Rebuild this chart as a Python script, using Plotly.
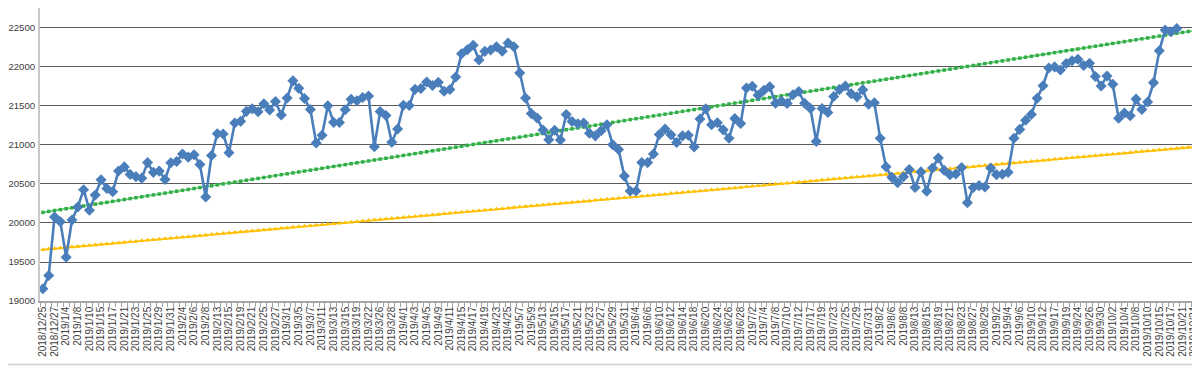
import plotly.graph_objects as go

# Trading-day categories (x axis)
dates = [
    "2018/12/25", "2018/12/26", "2018/12/27", "2018/12/28",
    "2019/1/4", "2019/1/7", "2019/1/8", "2019/1/9", "2019/1/10", "2019/1/11", "2019/1/15", "2019/1/16",
    "2019/1/17", "2019/1/18", "2019/1/21", "2019/1/22", "2019/1/23", "2019/1/24", "2019/1/25", "2019/1/28",
    "2019/1/29", "2019/1/30", "2019/1/31",
    "2019/2/1", "2019/2/4", "2019/2/5", "2019/2/6", "2019/2/7", "2019/2/8", "2019/2/12", "2019/2/13",
    "2019/2/14", "2019/2/15", "2019/2/18", "2019/2/19", "2019/2/20", "2019/2/21", "2019/2/22", "2019/2/25",
    "2019/2/26", "2019/2/27", "2019/2/28",
    "2019/3/1", "2019/3/4", "2019/3/5", "2019/3/6", "2019/3/7", "2019/3/8", "2019/3/11", "2019/3/12",
    "2019/3/13", "2019/3/14", "2019/3/15", "2019/3/18", "2019/3/19", "2019/3/20", "2019/3/22", "2019/3/25",
    "2019/3/26", "2019/3/27", "2019/3/28", "2019/3/29",
    "2019/4/1", "2019/4/2", "2019/4/3", "2019/4/4", "2019/4/5", "2019/4/8", "2019/4/9", "2019/4/10",
    "2019/4/11", "2019/4/12", "2019/4/15", "2019/4/16", "2019/4/17", "2019/4/18", "2019/4/19", "2019/4/22",
    "2019/4/23", "2019/4/24", "2019/4/25", "2019/4/26",
    "2019/5/7", "2019/5/8", "2019/5/9", "2019/5/10", "2019/5/13", "2019/5/14", "2019/5/15", "2019/5/16",
    "2019/5/17", "2019/5/20", "2019/5/21", "2019/5/22", "2019/5/23", "2019/5/24", "2019/5/27", "2019/5/28",
    "2019/5/29", "2019/5/30", "2019/5/31",
    "2019/6/3", "2019/6/4", "2019/6/5", "2019/6/6", "2019/6/7", "2019/6/10", "2019/6/11", "2019/6/12",
    "2019/6/13", "2019/6/14", "2019/6/17", "2019/6/18", "2019/6/19", "2019/6/20", "2019/6/21", "2019/6/24",
    "2019/6/25", "2019/6/26", "2019/6/27", "2019/6/28",
    "2019/7/1", "2019/7/2", "2019/7/3", "2019/7/4", "2019/7/5", "2019/7/8", "2019/7/9", "2019/7/10",
    "2019/7/11", "2019/7/12", "2019/7/16", "2019/7/17", "2019/7/18", "2019/7/19", "2019/7/22", "2019/7/23",
    "2019/7/24", "2019/7/25", "2019/7/26", "2019/7/29", "2019/7/30", "2019/7/31",
    "2019/8/1", "2019/8/2", "2019/8/5", "2019/8/6", "2019/8/7", "2019/8/8", "2019/8/9", "2019/8/13",
    "2019/8/14", "2019/8/15", "2019/8/16", "2019/8/19", "2019/8/20", "2019/8/21", "2019/8/22", "2019/8/23",
    "2019/8/26", "2019/8/27", "2019/8/28", "2019/8/29", "2019/8/30",
    "2019/9/2", "2019/9/3", "2019/9/4", "2019/9/5", "2019/9/6", "2019/9/9", "2019/9/10", "2019/9/11",
    "2019/9/12", "2019/9/13", "2019/9/17", "2019/9/18", "2019/9/19", "2019/9/20", "2019/9/24", "2019/9/25",
    "2019/9/26", "2019/9/27", "2019/9/30",
    "2019/10/1", "2019/10/2", "2019/10/3", "2019/10/4", "2019/10/7", "2019/10/8", "2019/10/9", "2019/10/10",
    "2019/10/11", "2019/10/15", "2019/10/16", "2019/10/17", "2019/10/18", "2019/10/21", "2019/10/23",
    "2019/10/24", "2019/10/25",
]

# Closing values (blue series), one per trading day up to 2019/10/18
close_values = [
    19156, 19327, 20078, 20015,
    19562, 20039, 20204, 20427, 20164, 20360, 20555, 20443, 20402, 20666, 20719, 20623, 20594, 20575,
    20774, 20649, 20665, 20557, 20773,
    20788, 20884, 20844, 20874, 20751, 20333, 20864, 21144, 21140, 20901, 21282, 21303, 21431, 21464,
    21426, 21528, 21449, 21557, 21385,
    21603, 21822, 21726, 21597, 21456, 21026, 21125, 21504, 21290, 21287, 21451, 21585, 21567, 21609,
    21627, 20977, 21428, 21378, 21034, 21206,
    21509, 21505, 21713, 21725, 21808, 21762, 21803, 21688, 21711, 21871, 22169, 22222, 22278, 22090,
    22200, 22218, 22260, 22201, 22308, 22259,
    21924, 21603, 21402, 21345, 21191, 21067, 21189, 21063, 21390, 21302, 21272, 21283, 21151, 21117,
    21183, 21260, 21003, 20943, 20601,
    20411, 20409, 20776, 20774, 20885, 21134, 21204, 21130, 21032, 21117, 21124, 20973, 21334, 21463,
    21259, 21286, 21194, 21087, 21338, 21276,
    21730, 21754, 21638, 21702, 21746, 21534, 21565, 21533, 21644, 21686, 21535, 21469, 21046, 21467,
    21417, 21621, 21710, 21757, 21658, 21617, 21709, 21522,
    21541, 21087, 20720, 20585, 20517, 20593, 20685, 20455, 20655, 20406, 20705, 20833, 20677, 20619,
    20628, 20711, 20261, 20456, 20479, 20461, 20704,
    20620, 20625, 20649, 21086, 21200, 21318, 21392, 21598, 21760, 21988, 22001, 21961, 22044, 22079,
    22099, 22020, 22048, 21879, 21756,
    21885, 21779, 21342, 21410, 21375, 21588, 21456, 21552, 21799, 22207, 22473, 22452, 22493,
]

# Green trend series
green_values = [
    20136, 20148, 20160, 20171, 20183, 20195, 20207, 20218, 20230, 20242,
    20254, 20265, 20277, 20289, 20301, 20313, 20324, 20336, 20348, 20360,
    20371, 20383, 20395, 20407, 20418, 20430, 20442, 20454, 20466, 20477,
    20489, 20501, 20513, 20524, 20536, 20548, 20560, 20571, 20583, 20595,
    20607, 20619, 20630, 20642, 20654, 20666, 20677, 20689, 20701, 20713,
    20725, 20736, 20748, 20760, 20772, 20783, 20795, 20807, 20819, 20830,
    20842, 20854, 20866, 20878, 20889, 20901, 20913, 20925, 20936, 20948,
    20960, 20972, 20983, 20995, 21007, 21019, 21031, 21042, 21054, 21066,
    21078, 21089, 21101, 21113, 21125, 21136, 21148, 21160, 21172, 21184,
    21195, 21207, 21219, 21231, 21242, 21254, 21266, 21278, 21289, 21301,
    21313, 21325, 21337, 21348, 21360, 21372, 21384, 21395, 21407, 21419,
    21431, 21442, 21454, 21466, 21478, 21490, 21501, 21513, 21525, 21537,
    21548, 21560, 21572, 21584, 21595, 21607, 21619, 21631, 21643, 21654,
    21666, 21678, 21690, 21701, 21713, 21725, 21737, 21748, 21760, 21772,
    21784, 21796, 21807, 21819, 21831, 21843, 21854, 21866, 21878, 21890,
    21902, 21913, 21925, 21937, 21949, 21960, 21972, 21984, 21996, 22007,
    22019, 22031, 22043, 22055, 22066, 22078, 22090, 22102, 22113, 22125,
    22137, 22149, 22160, 22172, 22184, 22196, 22208, 22219, 22231, 22243,
    22255, 22266, 22278, 22290, 22302, 22313, 22325, 22337, 22349, 22361,
    22372, 22384, 22396, 22408, 22419, 22431, 22443, 22455, 22466, 22478,
]

# Yellow trend series
yellow_values = [
    19658, 19665, 19671, 19678, 19685, 19691, 19698, 19705, 19711, 19718,
    19725, 19731, 19738, 19744, 19751, 19758, 19764, 19771, 19778, 19784,
    19791, 19798, 19804, 19811, 19818, 19824, 19831, 19838, 19844, 19851,
    19858, 19864, 19871, 19878, 19884, 19891, 19898, 19904, 19911, 19917,
    19924, 19931, 19937, 19944, 19951, 19957, 19964, 19971, 19977, 19984,
    19991, 19997, 20004, 20011, 20017, 20024, 20031, 20037, 20044, 20051,
    20057, 20064, 20070, 20077, 20084, 20090, 20097, 20104, 20110, 20117,
    20124, 20130, 20137, 20144, 20150, 20157, 20164, 20170, 20177, 20184,
    20190, 20197, 20204, 20210, 20217, 20224, 20230, 20237, 20243, 20250,
    20257, 20263, 20270, 20277, 20283, 20290, 20297, 20303, 20310, 20317,
    20323, 20330, 20337, 20343, 20350, 20357, 20363, 20370, 20377, 20383,
    20390, 20396, 20403, 20410, 20416, 20423, 20430, 20436, 20443, 20450,
    20456, 20463, 20470, 20476, 20483, 20490, 20496, 20503, 20510, 20516,
    20523, 20530, 20536, 20543, 20550, 20556, 20563, 20569, 20576, 20583,
    20589, 20596, 20603, 20609, 20616, 20623, 20629, 20636, 20643, 20649,
    20656, 20663, 20669, 20676, 20683, 20689, 20696, 20703, 20709, 20716,
    20722, 20729, 20736, 20742, 20749, 20756, 20762, 20769, 20776, 20782,
    20789, 20796, 20802, 20809, 20816, 20822, 20829, 20836, 20842, 20849,
    20856, 20862, 20869, 20876, 20882, 20889, 20895, 20902, 20909, 20915,
    20922, 20929, 20935, 20942, 20949, 20955, 20962, 20969, 20975, 20982,
]

y_ticks = [19000, 19500, 20000, 20500, 21000, 21500, 22000, 22500]
y_tick_labels = [str(v) for v in y_ticks]

tick_text = [d if i % 2 == 0 else "" for i, d in enumerate(dates)]

# The page body has an 8px default margin; size the figure to fill the rest of the window.
FIG_W, FIG_H = 1192, 358
PLOT_B = 65

fig = go.Figure()

fig.add_trace(go.Scatter(
    x=dates, y=yellow_values, mode="lines+markers",
    line=dict(color="#ffc000", width=1.6),
    marker=dict(symbol="triangle-up", size=5, color="#ffc000"),
    showlegend=False, hoverinfo="skip",
))
fig.add_trace(go.Scatter(
    x=dates, y=green_values, mode="lines+markers",
    line=dict(color="#5fcf73", width=1.6),
    marker=dict(symbol="square", size=3.5, color="#33ad48"),
    showlegend=False, hoverinfo="skip",
))
fig.add_trace(go.Scatter(
    x=dates[:len(close_values)], y=close_values, mode="lines+markers",
    line=dict(color="#4a7ebb", width=2.6),
    marker=dict(symbol="diamond", size=8.5, color="#4a7ebb"),
    showlegend=False,
))

plot_h = FIG_H - PLOT_B
fig.update_layout(
    width=FIG_W, height=FIG_H,
    margin=dict(l=32, r=0, t=0, b=PLOT_B, autoexpand=False),
    paper_bgcolor="white", plot_bgcolor="white",
    font=dict(family="Liberation Sans, Arial, sans-serif", size=10, color="#404040"),
    xaxis=dict(
        type="category",
        categoryorder="array", categoryarray=dates,
        range=[-0.5, 199.0],
        tickmode="array", tickvals=dates, ticktext=tick_text,
        tickangle=-90, tickfont=dict(size=10, color="#404040"),
        ticks="outside", ticklen=4, tickcolor="#a0a0a0", tickwidth=1,
        tickson="boundaries",
        showgrid=False, showline=True, linecolor="#a6a6a6", linewidth=1.5,
        zeroline=False, automargin=False,
    ),
    yaxis=dict(
        range=[19000, 22756],
        tickmode="array", tickvals=y_ticks, ticktext=y_tick_labels,
        tickfont=dict(size=9.6, color="#404040"),
        showgrid=True, gridcolor="#5a5a5a", gridwidth=1.3,
        showline=True, linecolor="#c8c8c8", linewidth=2,
        ticks="", ticklabelstandoff=1,
        zeroline=False, automargin=False,
    ),
    shapes=[dict(
        type="line", xref="paper", yref="paper",
        x0=-32 / 1160, x1=1,
        y0=(plot_h - 356.5) / plot_h, y1=(plot_h - 356.5) / plot_h,
        line=dict(color="#d0d0d0", width=1.5),
    )],
)

fig.write_html("out.html")
